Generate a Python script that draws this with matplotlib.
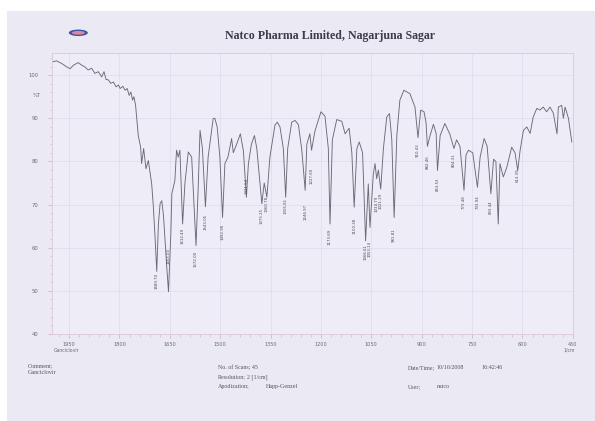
import matplotlib
matplotlib.use("Agg")
import matplotlib.pyplot as plt
from matplotlib.patches import Ellipse, Rectangle

# ---------------- data ----------------
wavenumber = [2000, 1987, 1972, 1957, 1947, 1937, 1923, 1912, 1903, 1893, 1883, 1873,
              1863, 1853, 1846, 1840, 1833, 1826, 1818, 1810, 1803, 1798, 1790, 1783,
              1777, 1771, 1766, 1761, 1757, 1752, 1744, 1737, 1734, 1728, 1721, 1714,
              1704, 1699, 1694, 1689, 1684, 1679, 1674, 1669, 1659, 1654, 1647, 1644,
              1635, 1630, 1625, 1620, 1612, 1605, 1595, 1585, 1572, 1566, 1560, 1553,
              1544, 1536, 1521, 1516, 1509, 1501, 1493, 1486, 1477, 1466, 1461, 1451,
              1440, 1431, 1422, 1416, 1407, 1398, 1391, 1376, 1369, 1361, 1352, 1337,
              1330, 1322, 1312, 1305, 1299, 1287, 1277, 1267, 1257, 1247, 1242, 1233,
              1228, 1218, 1200, 1188, 1178, 1173, 1166, 1153, 1138, 1128, 1116, 1108,
              1101, 1093, 1086, 1076, 1067, 1059, 1054, 1044, 1039, 1034, 1029, 1022,
              1014, 1004, 996, 989, 982, 974, 965, 953, 935, 920, 911, 903, 893, 887,
              883, 875, 865, 857, 853, 845, 831, 816, 804, 796, 786, 774, 768, 761,
              748, 734, 726, 714, 705, 694, 686, 679, 672, 667, 657, 647, 632, 622,
              614, 607, 597, 587, 577, 568, 557, 548, 538, 528, 518, 508, 497, 493,
              483, 478, 473, 463, 453]
transmittance = [103.1, 103.3, 102.7, 101.9, 101.5, 102.3, 102.9, 102.3, 101.9, 101.2, 101.6, 100.4,
                 100.8, 99.6, 100.8, 99.0, 98.9, 98.1, 98.4, 97.3, 97.7, 96.9, 97.4, 96.5,
                 96.9, 95.3, 96.1, 94.2, 95.0, 93.0, 86.0, 83.3, 79.5, 83.0, 78.3, 80.2,
                 74.8, 69.4, 62.4, 54.5, 65.5, 70.2, 70.9, 67.5, 55.4, 49.8, 63.2, 72.5,
                 75.6, 82.6, 81.0, 82.6, 65.5, 75.0, 82.2, 81.0, 60.5, 73.0, 87.2, 83.0,
                 69.5, 81.0, 89.9, 90.0, 88.0, 81.0, 67.0, 79.5, 81.0, 85.3, 82.0, 84.0,
                 86.4, 82.5, 71.7, 79.5, 84.0, 86.0, 83.0, 70.2, 75.0, 71.7, 81.0, 88.4,
                 89.1, 88.0, 83.0, 71.7, 83.0, 89.1, 89.5, 88.5, 82.6, 73.3, 84.0, 86.4,
                 82.6, 87.0, 91.5, 90.5, 83.0, 65.5, 85.0, 89.7, 89.3, 86.4, 87.7, 82.0,
                 69.4, 83.0, 84.5, 82.0, 61.6, 74.8, 64.7, 77.1, 79.5, 76.0, 78.0, 73.6,
                 83.0, 90.3, 91.1, 85.0, 67.0, 86.0, 94.2, 96.5, 95.7, 92.6, 85.5, 91.9, 91.5, 89.0,
                 83.5, 86.0, 88.6, 86.5, 77.9, 86.0, 88.8, 86.3, 83.0, 85.0, 83.5, 73.3, 81.5, 82.6,
                 82.0, 74.0, 81.0, 85.3, 83.5, 72.5, 80.5, 80.0, 65.5, 79.5, 76.4, 78.5, 83.3, 82.0,
                 77.9, 82.5, 87.2, 88.0, 86.5, 90.3, 92.3, 91.9, 92.6, 91.5, 92.6, 91.2, 86.4, 92.6,
                 93.0, 90.0, 92.6, 90.0, 84.5]

peak_wn = [1689, 1654, 1612, 1572, 1544, 1493, 1422, 1376, 1361, 1305, 1247, 1228,
           1173, 1101, 1067, 1054, 1034, 1022, 982, 911, 883, 853, 804, 774, 734,
           694, 614]
peak_label_T = [54.2, 60.0, 64.7, 59.3, 67.9, 65.6, 76.3, 69.1, 72.1, 71.6, 70.2, 78.4,
                64.4, 67.0, 60.9, 61.6, 72.1, 72.8, 64.4, 84.2, 81.4, 76.3, 81.9, 72.1, 72.1,
                70.9, 78.4]
peak_labels = ["1689.70", "1653.00", "1612.49", "1572.00", "1543.05", "1492.90", "1421.54",
               "1375.25", "1360.78", "1305.81", "1246.97", "1227.69", "1173.69", "1100.38",
               "1066.61", "1053.14", "1034.79", "1021.29", "981.81", "910.43", "882.46",
               "853.53", "804.31", "773.48", "733.94", "693.44", "613.39"]

x_ticks = [1950, 1800, 1650, 1500, 1350, 1200, 1050, 900, 750, 600, 450]
y_ticks = [40, 50, 60, 70, 80, 90, 100]

# ---------------- styling ----------------
paper = "#ebeaf4"
ink = "#55545f"
serif = ["Liberation Serif", "DejaVu Serif"]

fig = plt.figure(figsize=(5.95, 4.21), dpi=100, facecolor=paper)
# white scanner margins
fig.patches.append(Rectangle((0, 1 - 11 / 421), 1, 11 / 421, transform=fig.transFigure,
                             facecolor="white", edgecolor="none", zorder=-5))
fig.patches.append(Rectangle((0, 0), 7 / 595, 1, transform=fig.transFigure,
                             facecolor="white", edgecolor="none", zorder=-5))

ax = fig.add_axes([52.3 / 595, 1 - 334 / 421, (572.8 - 52.3) / 595, (334 - 52.7) / 421])
ax.set_facecolor("#eeedf7")
ax.plot(wavenumber, transmittance, color="#6a6975", lw=0.65)

for w, t, s in zip(peak_wn, peak_label_T, peak_labels):
    ax.text(w, t, s, rotation=90, ha="center", va="top", fontsize=2.8,
            color="#4a4955", family="DejaVu Sans")

ax.set_xlim(2000, 450)
ax.set_ylim(40, 105.2)
ax.set_xticks(x_ticks)
ax.set_xticks(range(1980, 449, -30), minor=True)
ax.set_yticks(y_ticks)
ax.set_yticks(range(40, 105, 2), minor=True)
ax.set_xticklabels([str(v) for v in x_ticks], fontsize=3.6, color="#6a6975", family="DejaVu Sans")
ax.set_yticklabels([str(v) for v in y_ticks], fontsize=3.8, color="#6a6975", family="DejaVu Sans")
ax.tick_params(axis="both", which="major", direction="out", length=3, width=0.5,
               color="#d2a9c0")
ax.tick_params(axis="both", which="minor", direction="out", length=1.8, width=0.4,
               color="#d2a9c0")
ax.tick_params(axis="y", which="major", pad=7)
ax.tick_params(axis="x", which="major", pad=2.5)
ax.grid(True, which="major", color="#dcdbe8", lw=0.5)
for sp in ax.spines.values():
    sp.set_color("#dcc8d6")
    sp.set_linewidth(0.6)

ax.text(-0.038, 0.848, "%T", transform=ax.transAxes, fontsize=3.8, color="#6a6975",
        ha="left", va="center", family="DejaVu Sans")

# ---------------- header ----------------
fig.text(330 / 595, 1 - 36 / 421, "Natco Pharma Limited, Nagarjuna Sagar",
         ha="center", va="center", fontsize=8.6, fontweight="bold", family=serif,
         color="#3c3b48")
logo_xy = (78.3 / 595, 1 - 32.8 / 421)
fig.patches.append(Ellipse(logo_xy, 19 / 595, 6.5 / 421, transform=fig.transFigure,
                           facecolor="#3e54a0", edgecolor="none"))
fig.patches.append(Ellipse(logo_xy, 13 / 595, 3.8 / 421, transform=fig.transFigure,
                           facecolor="#d98a98", edgecolor="none"))

# ---------------- axis captions ----------------
fig.text(66.7 / 595, 1 - 350.5 / 421, "Ganciclovir", ha="center", va="center",
         fontsize=3.3, color="#6a6975", family="DejaVu Sans")
fig.text(569 / 595, 1 - 350.5 / 421, "1/cm", ha="center", va="center",
         fontsize=3.3, color="#6a6975", family="DejaVu Sans")

# ---------------- footer ----------------
fs = 4.3
def ft(x, y, s):
    fig.text(x / 595, 1 - y / 421, s, ha="left", va="center", fontsize=fs,
             family=serif, color=ink)

ft(28, 365.5, "Comment;")
ft(28, 372.5, "Ganciclovir")
ft(218, 367.5, "No. of Scans; 45")
ft(218, 377, "Resolution;")
ft(246.7, 377, "2 [1/cm]")
ft(218, 386.7, "Apodization;")
ft(266, 386.7, "Happ-Genzel")
ft(407.7, 367.5, "Date/Time;")
ft(436, 367.5, "10/16/2008")
ft(481.7, 367.5, "16:42:46")
ft(407.7, 386.7, "User;")
ft(436.7, 386.7, "natco")

fig.savefig("out.png", dpi=100, facecolor=fig.get_facecolor())
